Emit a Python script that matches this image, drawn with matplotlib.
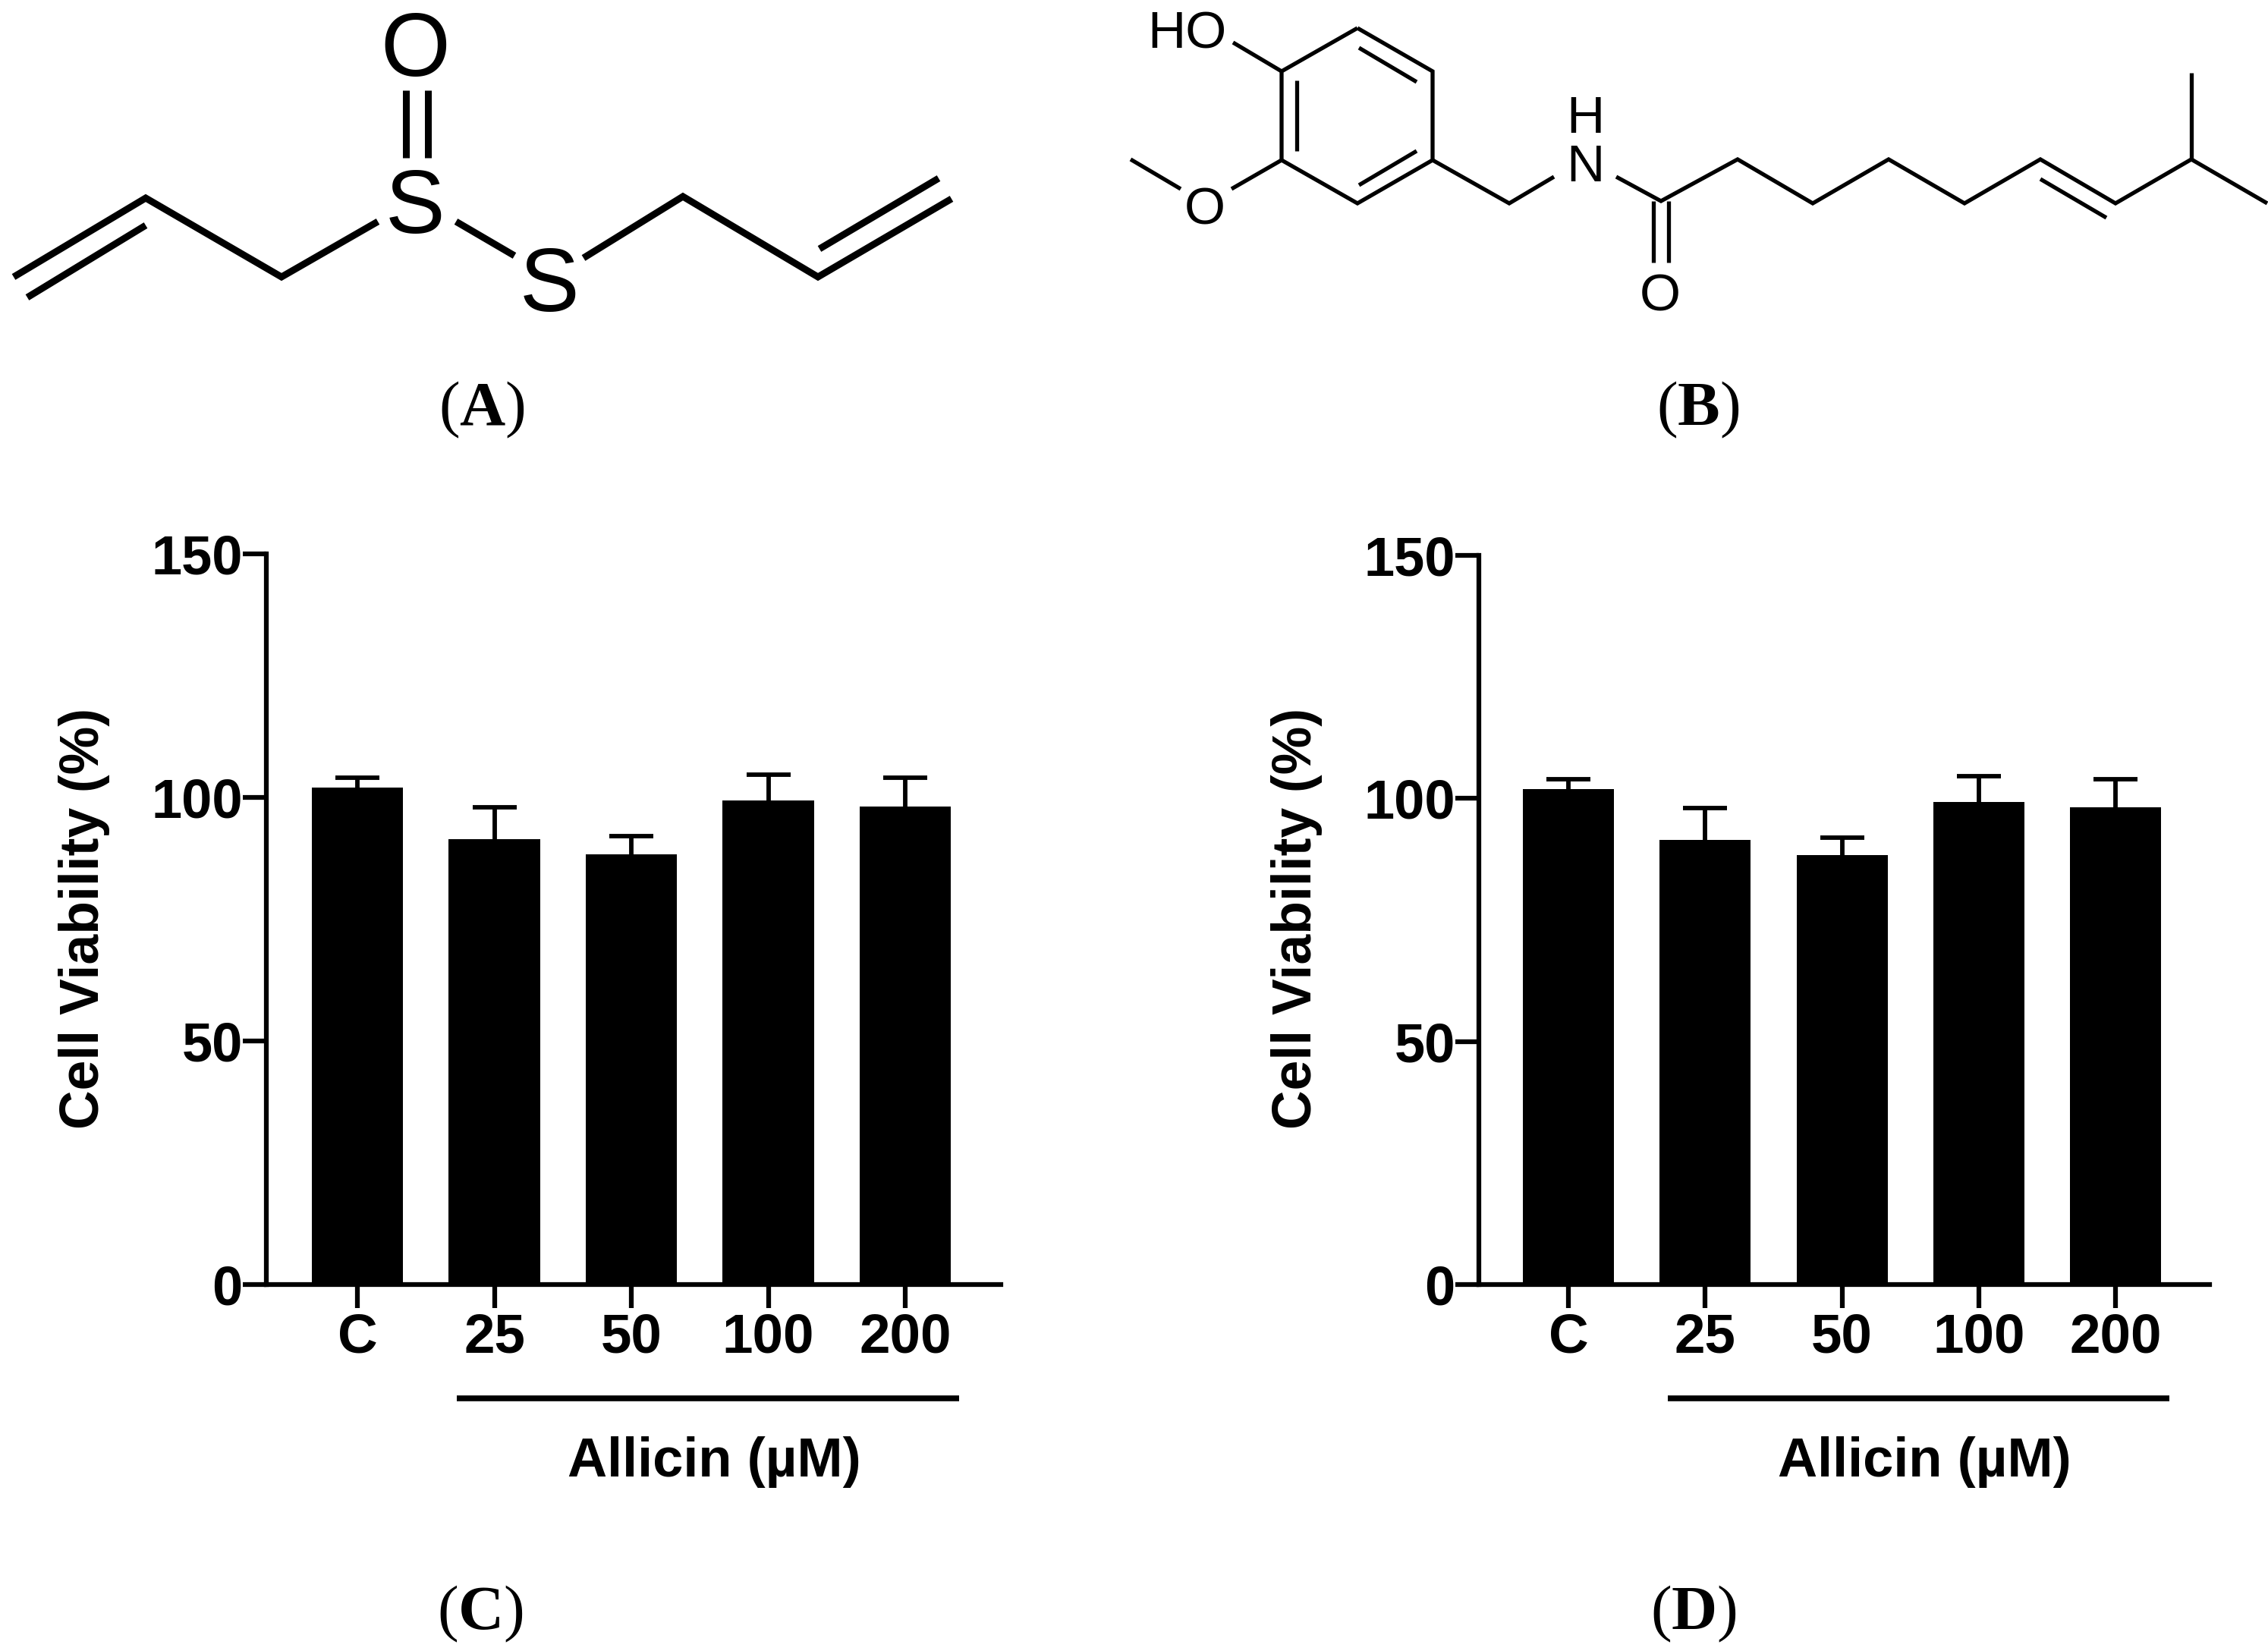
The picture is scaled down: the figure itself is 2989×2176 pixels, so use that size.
import numpy as np
import matplotlib
matplotlib.use('Agg')
import matplotlib.pyplot as plt

plt.rcParams['font.family'] = ['Liberation Sans', 'DejaVu Sans']
plt.rcParams['mathtext.fontset'] = 'custom'
plt.rcParams['mathtext.rm'] = 'Liberation Serif'
plt.rcParams['mathtext.bf'] = 'Liberation Serif:bold'

W, H = 2989, 2176

# bar chart data
groups = ['C', '25', '50', '100', '200']
y_ticks = [0, 50, 100, 150]
viability_c = [102, 91.5, 88.3, 99.3, 98.2]
error_c = [2, 6.5, 3.7, 5.3, 5.8]
viability_d = [102, 91.5, 88.3, 99.3, 98.2]
error_d = [2, 6.5, 3.7, 5.3, 5.8]

# structure drawings, pixel coordinates of the bonds
allicin_bonds = [
    [(18, 365), (192, 261), (371, 365), (498, 292)],
    [(36, 392), (192, 297)],
    [(535, 119), (535, 208)],
    [(564, 119), (564, 208)],
    [(601, 292), (678, 337)],
    [(769, 340), (900, 259), (1078, 365), (1254, 262)],
    [(1080, 328), (1237, 235)],
]
allicin_atoms = [('O', 547, 57), ('S', 547, 264), ('S', 724, 367)]

capsaicin_bonds = [
    [(1789, 37), (1888, 94), (1888, 211), (1789, 268), (1689, 211), (1689, 94), (1789, 37)],
    [(1791, 63), (1867, 108)],
    [(1709, 106), (1709, 199)],
    [(1791, 244), (1867, 199)],
    [(1625, 56), (1689, 94)],
    [(1689, 211), (1623, 249)],
    [(1490, 210), (1556, 249)],
    [(1888, 211), (1989, 268), (2048, 233)],
    [(2130, 233), (2189, 265), (2290, 210), (2389, 268), (2489, 210), (2589, 268),
     (2689, 210), (2788, 268), (2888, 210), (2988, 268)],
    [(2888, 210), (2888, 96)],
    [(2689, 236), (2776, 287)],
    [(2179, 265), (2179, 346)],
    [(2199, 265), (2199, 346)],
]
capsaicin_atoms = [('HO', 1564, 39), ('O', 1588, 270), ('N', 2089, 214), ('H', 2089, 150), ('O', 2188, 384)]

panel_labels = [('A', 635, 540), ('B', 2238, 540), ('C', 633, 2127), ('D', 2232, 2127)]


def px_axes(fig, left, right, top, bottom):
    return fig.add_axes([left / W, 1 - bottom / H, (right - left) / W, (bottom - top) / H])


def bar_panel(fig, left, right, top, bottom, first, step, values, errors, line_x, line_y, label_x):
    ax = px_axes(fig, left, right, top, bottom)
    x = np.arange(len(groups))
    ax.bar(x, values, width=0.665, color='black')
    eb = ax.errorbar(x, values, yerr=[np.zeros(len(errors)), errors], fmt='none', ecolor='black',
                     elinewidth=4.2, capsize=21, capthick=4.2)
    # only the upper cap shows in the figure
    eb[1][0].set_visible(False)
    ax.set_xlim((left - first) / step, (right - first) / step)
    ax.set_ylim(0, 150)
    ax.set_xticks(x)
    ax.set_xticklabels(groups)
    ax.set_yticks(y_ticks)
    ax.tick_params(axis='x', length=22, width=4.5, pad=4.5, labelsize=52.5)
    ax.tick_params(axis='y', length=22, width=4.5, pad=0.5, labelsize=52)
    for t in ax.get_xticklabels() + ax.get_yticklabels():
        t.set_fontweight('bold')
    ax.spines['top'].set_visible(False)
    ax.spines['right'].set_visible(False)
    ax.spines['left'].set_linewidth(4.5)
    ax.spines['bottom'].set_linewidth(4.5)
    overlay.text(left - 240, 1211, 'Cell Viability (%)', rotation=90, ha='center', va='center',
                 fontsize=51.5, fontweight='bold')
    overlay.plot(line_x, [line_y, line_y], color='black', lw=5.5, solid_capstyle='butt')
    overlay.text(label_x, 1927, 'Allicin (µM)', ha='center', va='center', fontsize=52, fontweight='bold')


def structure(bonds, atoms, lw, size):
    for b in bonds:
        pts = np.array(b)
        overlay.plot(pts[:, 0], pts[:, 1], color='black', lw=lw, solid_joinstyle='miter', solid_capstyle='butt')
    for name, ax_x, ax_y in atoms:
        overlay.text(ax_x, ax_y, name, ha='center', va='center_baseline', fontsize=size)


fig = plt.figure(figsize=(W / 100, H / 100), dpi=100, facecolor='white')

overlay = fig.add_axes([0, 0, 1, 1])
overlay.set_xlim(0, W)
overlay.set_ylim(H, 0)
overlay.axis('off')

structure(allicin_bonds, allicin_atoms, 6.5, 85)
structure(capsaicin_bonds, capsaicin_atoms, 3.8, 50)

for name, x, y in panel_labels:
    overlay.text(x, y, r'($\mathbf{' + name + '}$)', ha='center', va='center',
                 fontsize=60, family='Liberation Serif')

bar_panel(fig, 351, 1319, 730, 1693, 471, 180.5, viability_c, error_c, [602, 1264], 1843, 941)
bar_panel(fig, 1949, 2912, 732, 1693, 2067, 180.3, viability_d, error_d, [2198, 2859], 1843, 2536)

fig.savefig('out.png', dpi=100)
